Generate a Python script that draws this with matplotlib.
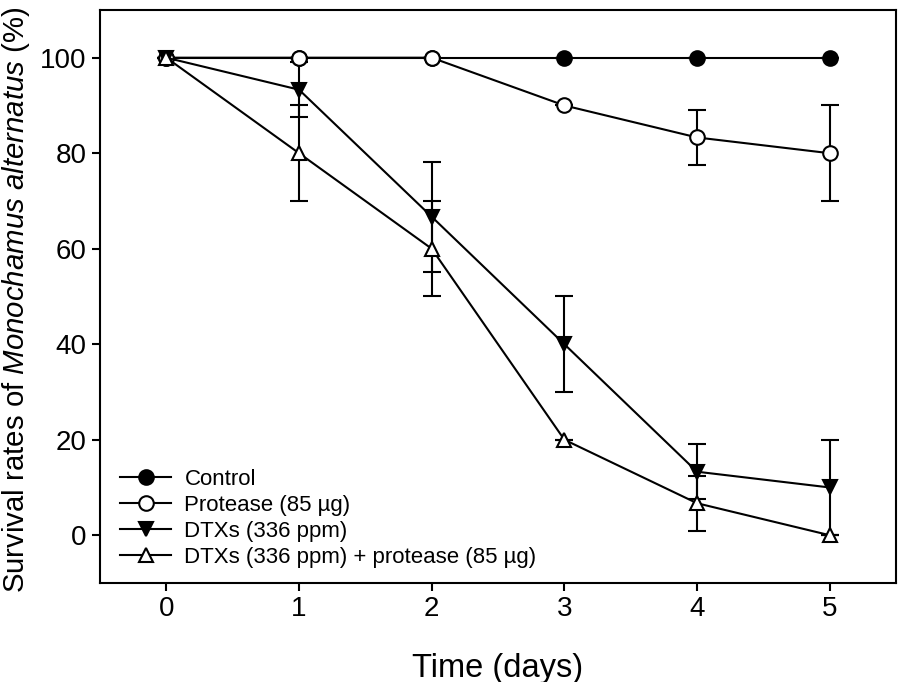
import matplotlib
matplotlib.use("Agg")
import matplotlib.pyplot as plt

plt.rcParams['font.family'] = ['Liberation Sans', 'DejaVu Sans']
plt.rcParams['mathtext.fontset'] = 'custom'
plt.rcParams['mathtext.rm'] = 'Liberation Sans'
plt.rcParams['mathtext.it'] = 'Liberation Sans:italic'

days = [0, 1, 2, 3, 4, 5]
control = [100, 100, 100, 100, 100, 100]
control_err = [0, 0, 0, 0, 0, 0]
protease = [100, 100, 100, 90, 83.3, 80]
protease_err = [0, 0, 0, 0, 5.8, 10]
dtxs = [100, 93.3, 66.7, 40, 13.3, 10]
dtxs_err = [0, 5.8, 11.5, 10, 5.8, 10]
combo = [100, 80, 60, 20, 6.7, 0]
combo_err = [0, 10, 10, 0, 5.8, 0]

labels = ["Control", "Protease (85 µg)", "DTXs (336 ppm)",
          "DTXs (336 ppm) + protease (85 µg)"]
xticks = [0, 1, 2, 3, 4, 5]
yticks = [0, 20, 40, 60, 80, 100]

fig = plt.figure(figsize=(8.98, 6.82), dpi=100)
ax = fig.add_axes([0.1114, 0.1452, 0.8864, 0.8402])

series = [
    (control, control_err, 'o', 'black'),
    (protease, protease_err, 'o', 'white'),
    (dtxs, dtxs_err, 'v', 'black'),
    (combo, combo_err, '^', 'white'),
]
handles = []
for (vals, errs, mk, fc), lab in zip(series, labels):
    ax.errorbar(days, vals, yerr=errs, fmt='none', ecolor='black',
                elinewidth=1.5, capsize=6.5, capthick=1.5, zorder=2)
    h, = ax.plot(days, vals, color='black', lw=1.5, marker=mk,
                 markersize=10.5, markerfacecolor=fc, markeredgecolor='black',
                 markeredgewidth=1.5, label=lab, zorder=3)
    handles.append(h)

ax.set_xlim(-0.5, 5.5)
ax.set_ylim(-10, 110)
ax.set_xticks(xticks)
ax.set_yticks(yticks)
ax.tick_params(axis='both', direction='out', length=6, width=1.5,
               labelsize=20, top=False, right=False)
for s in ax.spines.values():
    s.set_linewidth(1.5)

ax.set_xlabel("Time (days)", fontsize=23.5, labelpad=22)
ax.set_ylabel(r"Survival rates of $\mathit{Monochamus\ alternatus}$ (%)",
              fontsize=21.2)
ax.yaxis.set_label_coords(-0.086, 0.494)

ax.legend(handles=handles, loc='lower left', bbox_to_anchor=(0.0, -0.008),
          frameon=False, fontsize=16, handlelength=2.3, handletextpad=0.6,
          labelspacing=0.22, borderaxespad=0.5)

fig.savefig("out.png", dpi=100)
